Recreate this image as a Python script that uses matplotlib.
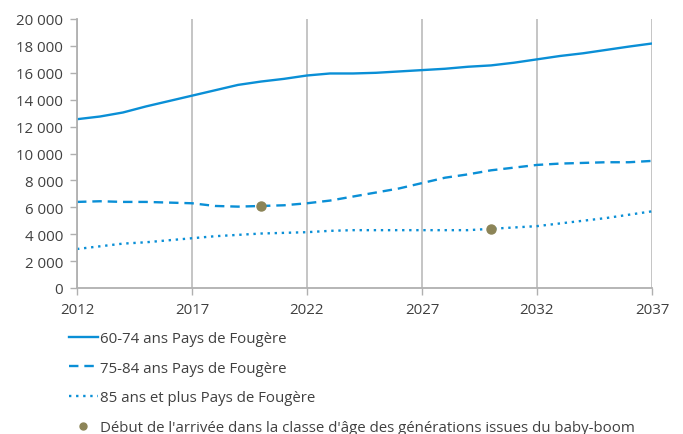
import matplotlib
matplotlib.use('Agg')
import matplotlib.pyplot as plt
from matplotlib.ticker import FuncFormatter
from matplotlib.lines import Line2D

plt.rcParams['font.family'] = ['Open Sans', 'DejaVu Sans']

# données
annees = list(range(2012, 2038))
ans_60_74 = [12550, 12750, 13050, 13500, 13900, 14300, 14700, 15100, 15350, 15550,
             15800, 15950, 15950, 16000, 16100, 16200, 16300, 16450, 16550, 16750,
             17000, 17250, 17450, 17700, 17950, 18180]
ans_75_84 = [6400, 6450, 6400, 6400, 6350, 6300, 6100, 6050, 6100, 6150,
             6300, 6500, 6800, 7100, 7400, 7800, 8200, 8450, 8750, 8950,
             9150, 9250, 9300, 9350, 9350, 9450]
ans_85_plus = [2900, 3100, 3300, 3400, 3550, 3700, 3850, 3950, 4050, 4100,
               4150, 4250, 4300, 4300, 4300, 4300, 4300, 4300, 4400, 4500,
               4600, 4800, 5000, 5200, 5450, 5700]
babyboom_x = [2020, 2030]
babyboom_y = [6100, 4400]

labels = ['60-74 ans Pays de Fougère', '75-84 ans Pays de Fougère',
          '85 ans et plus Pays de Fougère',
          "Début de l'arrivée dans la classe d'âge des générations issues du baby-boom"]

bleu = '#0a8fd6'
olive = '#8c8457'
gris = '#404040'

fig = plt.figure(figsize=(6.83, 4.35), dpi=100)
ax = fig.add_axes([77 / 683, 1 - 289 / 435, 575 / 683, 269 / 435])

ax.plot(annees, ans_60_74, color=bleu, lw=1.7, solid_capstyle='butt')
ax.plot(annees, ans_75_84, color=bleu, lw=1.7, linestyle=(0, (4, 2.5)))
ax.plot(annees, ans_85_plus, color=bleu, lw=1.7, linestyle=(0, (1, 2)))
ax.plot(babyboom_x, babyboom_y, 'o', color=olive, ms=6.5, zorder=5)

ax.set_xlim(2012, 2037)
ax.set_ylim(0, 20000)
ax.set_xticks(range(2012, 2038, 5))
ax.set_yticks(range(0, 20001, 2000))
ax.yaxis.set_major_formatter(FuncFormatter(lambda v, p: f'{int(v):,}'.replace(',', ' ')))
ax.grid(axis='x', color='#c0c0c0', lw=1.3)
ax.set_axisbelow(True)

for s in ['top', 'right']:
    ax.spines[s].set_visible(False)
for s in ['left', 'bottom']:
    ax.spines[s].set_color('#b0b0b0')
    ax.spines[s].set_linewidth(1.3)
ax.tick_params(colors='#b0b0b0', labelcolor=gris, labelsize=10.8, length=5, width=1)
ax.tick_params(axis='y', pad=5)
ax.tick_params(axis='x', pad=5)

handles = [Line2D([], [], color=bleu, lw=1.7),
           Line2D([], [], color=bleu, lw=1.7, linestyle=(0, (4, 2.5))),
           Line2D([], [], color=bleu, lw=1.7, linestyle=(0, (1, 2))),
           Line2D([], [], color=olive, marker='o', ms=5, lw=0)]
leg = fig.legend(handles, labels, loc='upper left', bbox_to_anchor=(69 / 683, 1 - 332 / 435),
                 frameon=False, fontsize=10.8, labelspacing=0.98, handlelength=1.9,
                 handletextpad=0.2, borderpad=0, borderaxespad=0)
for t in leg.get_texts():
    t.set_color(gris)

fig.savefig('out.png', dpi=100)
